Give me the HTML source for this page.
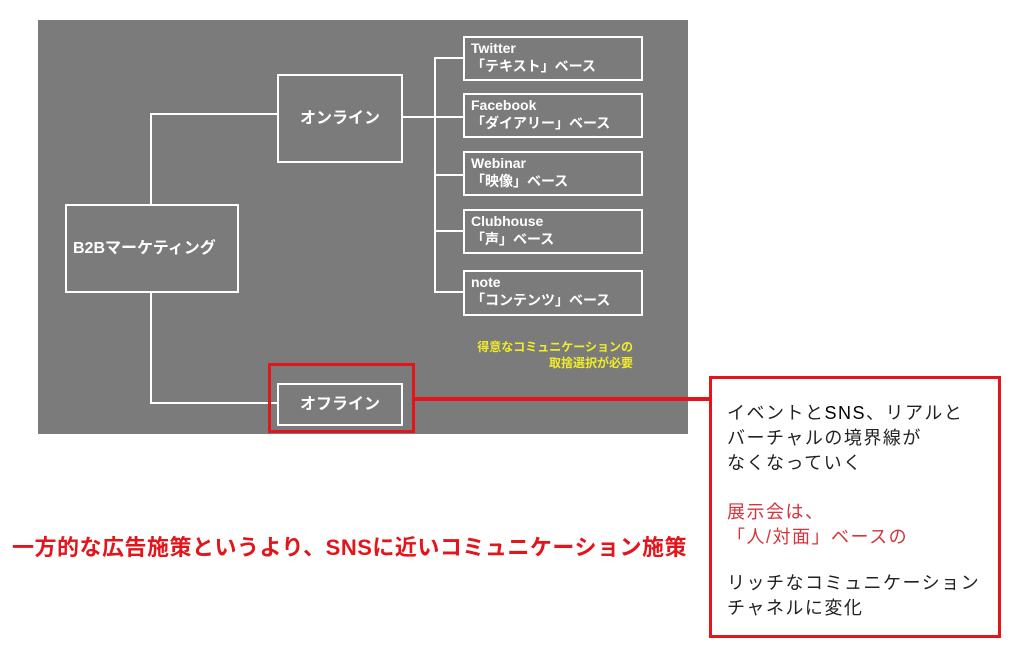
<!DOCTYPE html>
<html><head><meta charset="utf-8"><style>
body{margin:0;width:1024px;height:655px;background:#fff;position:relative;overflow:hidden;font-family:"Liberation Sans","Noto Sans CJK JP",sans-serif}
.a{position:absolute}
.g{left:38px;top:20px;width:650px;height:414px;background:#7b7b7b}
.b{position:absolute;border:2px solid #fff;box-sizing:border-box;color:#fff;font-weight:bold}
.l{position:absolute;background:#fff}
.s{font-size:14px;line-height:18px;padding:1px 0 0 6px}
.t{position:absolute;font-size:18px;letter-spacing:1.5px;line-height:25px;color:#222;left:727px}
</style></head><body>
<div class="a g"></div>
<div class="l" style="left:150px;top:113px;width:2px;height:91px"></div>
<div class="l" style="left:150px;top:113px;width:127px;height:2px"></div>
<div class="l" style="left:150px;top:292px;width:2px;height:112px"></div>
<div class="l" style="left:150px;top:402px;width:127px;height:2px"></div>
<div class="l" style="left:402px;top:116px;width:61px;height:2px"></div>
<div class="l" style="left:434px;top:57px;width:2px;height:235px"></div>
<div class="l" style="left:434px;top:57px;width:29px;height:2px"></div>
<div class="l" style="left:434px;top:174px;width:29px;height:2px"></div>
<div class="l" style="left:434px;top:230px;width:29px;height:2px"></div>
<div class="l" style="left:434px;top:291px;width:29px;height:2px"></div>
<div class="b" style="left:65px;top:204px;width:174px;height:89px;font-size:16px;line-height:85px;padding-left:6px">B2Bマーケティング</div>
<div class="b" style="left:277px;top:74px;width:126px;height:89px;font-size:16px;line-height:85px;text-align:center">オンライン</div>
<div class="b" style="left:277px;top:383px;width:126px;height:43px;font-size:16px;line-height:39px;text-align:center">オフライン</div>
<div class="b s" style="left:463px;top:36px;width:180px;height:45px">Twitter<br>「テキスト」ベース</div>
<div class="b s" style="left:463px;top:93px;width:180px;height:45px">Facebook<br>「ダイアリー」ベース</div>
<div class="b s" style="left:463px;top:151px;width:180px;height:45px">Webinar<br>「映像」ベース</div>
<div class="b s" style="left:463px;top:209px;width:180px;height:45px">Clubhouse<br>「声」ベース</div>
<div class="b s" style="left:463px;top:270px;width:180px;height:46px">note<br>「コンテンツ」ベース</div>
<div class="a" style="left:420px;top:339px;width:213px;text-align:right;color:#f0ec2a;font-size:12px;font-weight:bold;line-height:16px">得意なコミュニケーションの<br>取捨選択が必要</div>
<div class="a" style="left:268px;top:363px;width:147px;height:70px;border:3px solid #e4141b;box-sizing:border-box"></div>
<div class="a" style="left:414px;top:397px;width:297px;height:4px;background:#e4141b"></div>
<div class="a" style="left:709px;top:376px;width:292px;height:262px;border:3px solid #e4141b;box-sizing:border-box"></div>
<div class="t" style="top:401px">イベントと<b style="font-weight:normal;color:#000">SNS</b>、リアルと<br>バーチャルの境界線が<br>なくなっていく</div>
<div class="t" style="top:500px;color:#d8323a">展示会は、<br>「人/対面」ベースの</div>
<div class="t" style="top:571px">リッチなコミュニケーション<br>チャネルに変化</div>
<div class="a" style="left:12px;top:534px;color:#e4141b;font-weight:bold;font-size:22px;line-height:28px;white-space:nowrap;letter-spacing:0.5px">一方的な広告施策というより、SNSに近いコミュニケーション施策</div>
</body></html>
